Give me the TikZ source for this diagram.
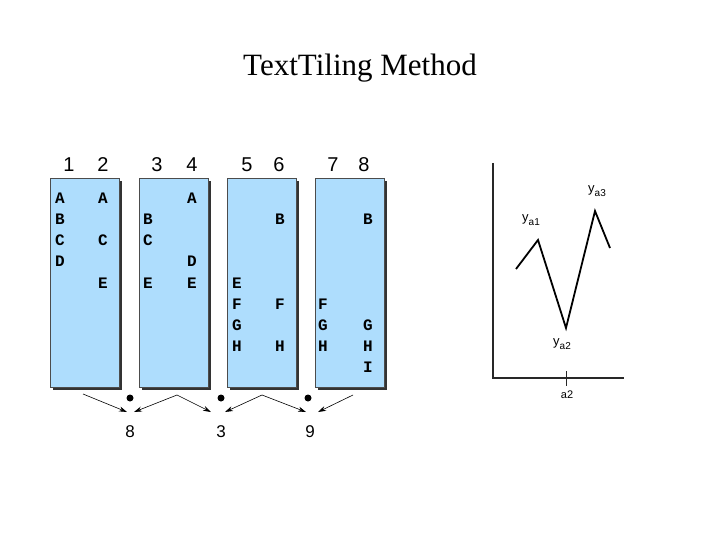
\documentclass[tikz,border=0pt]{standalone}
\usepackage{fontspec}
\setmainfont{Liberation Serif}
\setsansfont{Liberation Sans}
\setmonofont{Liberation Mono}
\usepackage{xcolor}
\usepackage{tikz}
\usetikzlibrary{arrows.meta}

\definecolor{tileblue}{RGB}{174,221,253}
\definecolor{axisgray}{RGB}{40,40,40}

\begin{document}
\begin{tikzpicture}[x=1pt, y=-1pt, >={Stealth[length=8pt,width=5pt]},
    every node/.style={inner sep=0pt},
    tilebox/.style={draw=black!70, fill=tileblue, minimum width=69pt, minimum height=209pt,
      preaction={fill=black!80, transform canvas={shift={(2.5pt,-2.5pt)}}}},
    colnum/.style={font=\sffamily\fontsize{20}{20}\selectfont},
    word/.style={font=\ttfamily\bfseries\fontsize{16}{16}\selectfont},
    gapnum/.style={font=\sffamily\fontsize{17}{17}\selectfont},
    gaparrow/.style={->, line width=0.6pt},
    ylab/.style={font=\sffamily\fontsize{13}{13}\selectfont}]
  \useasboundingbox (0,0) rectangle (720,540);

  % title
  \node[font=\fontsize{31}{31}\selectfont] (title) at (360,68) {TextTiling Method};

  % the four blocks of text
  \node[tilebox] (b1) at (85,283) {};
  \node[tilebox] (b2) at (173.5,283) {};
  \node[tilebox] (b3) at (262,283) {};
  \node[tilebox] (b4) at (349.5,283) {};

  % sentence numbers
  \foreach \n/\x in {1/69, 2/103, 3/157, 4/192, 5/247, 6/279, 7/333, 8/364}
    \node[colnum] (s\n) at (\x,165) {\n};

  % terms per sentence
  \foreach \x/\y/\t in {60/198/A, 60/219/B, 60/240/C, 60/261/D,
                        103/198/A, 103/240/C, 103/283/E,
                        148/219/B, 148/240/C, 148/283/E,
                        192/198/A, 192/261/D, 192/283/E,
                        237/283/E, 237/304/F, 237/325/G, 237/346/H,
                        280/219/B, 280/304/F, 280/346/H,
                        323/304/F, 323/325/G, 323/346/H,
                        368/219/B, 368/325/G, 368/346/H, 368/367/I}
    \node[word] (w-\x-\y) at (\x,\y) {\t};

  % gaps and their scores
  \node[circle, fill=black, minimum size=7pt] (d1) at (130,398) {};
  \node[circle, fill=black, minimum size=7pt] (d2) at (221,398) {};
  \node[circle, fill=black, minimum size=7pt] (d3) at (308,398) {};
  \node[gapnum] (g1) at (130,432) {8};
  \node[gapnum] (g2) at (221,432) {3};
  \node[gapnum] (g3) at (310,432) {9};

  \coordinate (p1) at (83,394);
  \coordinate (p2) at (177,395);
  \coordinate (p3) at (262,395);
  \coordinate (p4) at (353,395);
  \coordinate (t1l) at (127,412);
  \coordinate (t1r) at (134,412);
  \coordinate (t2l) at (211,412);
  \coordinate (t2r) at (225,412);
  \coordinate (t3l) at (306,412);
  \coordinate (t3r) at (318,412);
  \draw[gaparrow] (p1) -- (t1l);
  \draw[gaparrow] (p2) -- (t1r);
  \draw[gaparrow] (p2) -- (t2l);
  \draw[gaparrow] (p3) -- (t2r);
  \draw[gaparrow] (p3) -- (t3l);
  \draw[gaparrow] (p4) -- (t3r);

  % plot of the scores
  \coordinate (origin) at (493,378);
  \coordinate (ytop) at (493,163);
  \coordinate (xend) at (624,378);
  \draw[axisgray, line width=2pt] (ytop) -- (origin) -- (xend);
  \draw[axisgray, line width=0.8pt] (566,371) -- (566,386);
  \node[ylab, font=\sffamily\fontsize{11}{11}\selectfont] (a2) at (567,395) {a2};

  \draw[line width=1.8pt, line join=miter] (516,269) -- (538,240) -- (566,328) -- (595,211) -- (610,248);
  \node[ylab] (ya1) at (531,220) {y\raisebox{-4pt}{\fontsize{10}{10}\selectfont a1}};
  \node[ylab] (ya2) at (562,344) {y\raisebox{-4pt}{\fontsize{10}{10}\selectfont a2}};
  \node[ylab] (ya3) at (597,191) {y\raisebox{-4pt}{\fontsize{10}{10}\selectfont a3}};
\end{tikzpicture}
\end{document}
